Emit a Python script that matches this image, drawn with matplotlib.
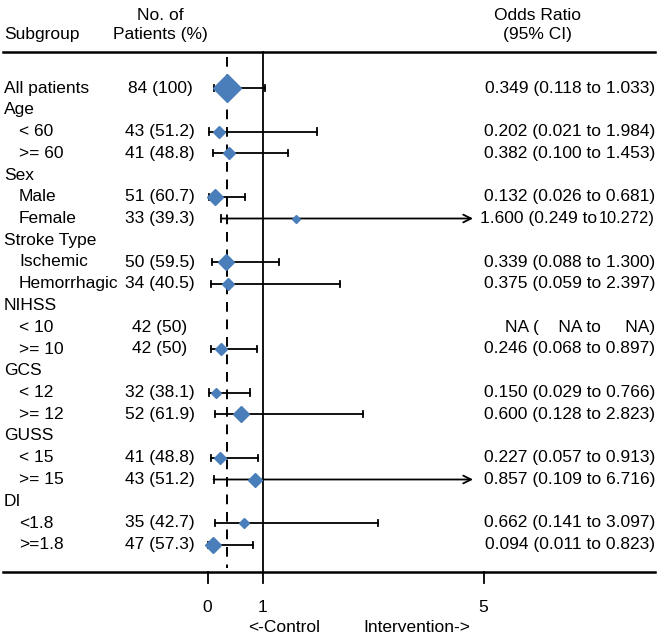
import numpy as np
import matplotlib.pyplot as plt

plt.rcParams['font.family'] = ['Liberation Sans', 'DejaVu Sans']

# Data
labels = ['All patients', 'Age', '< 60', '>= 60', 'Sex', 'Male', 'Female',
          'Stroke Type', 'Ischemic', 'Hemorrhagic', 'NIHSS', '< 10', '>= 10',
          'GCS', '< 12', '>= 12', 'GUSS', '< 15', '>= 15', 'DI', '<1.8', '>=1.8']
indent = [0, 0, 1, 1, 0, 1, 1, 0, 1, 1, 0, 1, 1, 0, 1, 1, 0, 1, 1, 0, 1, 1]
n_text = ['84 (100)', '', '43 (51.2)', '41 (48.8)', '', '51 (60.7)', '33 (39.3)',
          '', '50 (59.5)', '34 (40.5)', '', '42 (50)', '42 (50)', '',
          '32 (38.1)', '52 (61.9)', '', '41 (48.8)', '43 (51.2)', '',
          '35 (42.7)', '47 (57.3)']
nan = np.nan
odds = [0.349, nan, 0.202, 0.382, nan, 0.132, 1.600, nan, 0.339, 0.375, nan,
        nan, 0.246, nan, 0.150, 0.600, nan, 0.227, 0.857, nan, 0.662, 0.094]
lower = [0.118, nan, 0.021, 0.100, nan, 0.026, 0.249, nan, 0.088, 0.059, nan,
         nan, 0.068, nan, 0.029, 0.128, nan, 0.057, 0.109, nan, 0.141, 0.011]
upper = [1.033, nan, 1.984, 1.453, nan, 0.681, 10.272, nan, 1.300, 2.397, nan,
         nan, 0.897, nan, 0.766, 2.823, nan, 0.913, 6.716, nan, 3.097, 0.823]
na_rows = ['< 10']
box_size = [14, 0, 6, 6, 0, 8, 4.5, 0, 8, 6, 0, 0, 6.5, 0, 5, 8, 0, 6, 7, 0, 5.5, 8]
ticks = [0, 1, 5]

# layout (pixels)
W, H = 660, 636
x0, scale = 207.5, 55.2
clip_hi = 4.81
row0, dy = 88, 21.75
blue = '#4a7ebb'
fs = 12.5


def px(p):
    return (p - x0) / scale


fig = plt.figure(figsize=(W / 100, H / 100), dpi=100)
ax = fig.add_axes([0, 0, 1, 1])
ax.set_xlim(px(0), px(W))
ax.set_ylim(H, 0)
ax.axis('off')
renderer = fig.canvas.get_renderer()

# header
ax.text(px(4), 35, 'Subgroup', fontsize=fs, va='center', ha='left')
ax.text(px(160), 16, 'No. of', fontsize=fs, va='center', ha='center')
ax.text(px(160), 35, 'Patients (%)', fontsize=fs, va='center', ha='center')
ax.text(px(537), 16, 'Odds Ratio', fontsize=fs, va='center', ha='center')
ax.text(px(537), 35, '(95% CI)', fontsize=fs, va='center', ha='center')

top, bottom = 52, 572
ax.plot([px(3), px(655)], [top, top], color='black', lw=1.8)
ax.plot([px(3), px(655)], [bottom, bottom], color='black', lw=1.8)
ax.plot([1, 1], [top, bottom], color='black', lw=1.3)
ax.plot([odds[0], odds[0]], [57, 568], color='black', lw=1.4, ls=(0, (5, 4)))

for t in ticks:
    ax.plot([t, t], [bottom, 583], color='black', lw=1.3)
    ax.text(t, 607, str(t), fontsize=fs, va='center', ha='center')
ax.text(px(284), 628, '<-Control', fontsize=fs, va='center', ha='center')
ax.text(px(417), 628, 'Intervention->', fontsize=fs, va='center', ha='center')

for i, lab in enumerate(labels):
    y = row0 + i * dy
    ax.text(px(19 if indent[i] else 4), y, lab, fontsize=fs, va='center', ha='left')
    if n_text[i]:
        ax.text(px(160), y, n_text[i], fontsize=fs, va='center', ha='center')
    if lab in na_rows:
        ax.text(px(655), y, 'NA (    NA to     NA)', fontsize=fs, va='center', ha='right')
        continue
    if np.isnan(odds[i]):
        continue
    if upper[i] >= 10:
        # wide upper limit printed a bit narrower, as in the original
        suf = ax.text(px(655), y, f'{upper[i]:.3f})', fontsize=fs - 0.7,
                      va='center', ha='right')
        wpx = suf.get_window_extent(renderer).width
        ax.text(px(655 - wpx - 2), y, f'{odds[i]:.3f} ({lower[i]:.3f} to',
                fontsize=fs, va='center', ha='right')
    else:
        ax.text(px(655), y, f'{odds[i]:.3f} ({lower[i]:.3f} to {upper[i]:.3f})',
                fontsize=fs, va='center', ha='right')
    cap = 3.2
    ax.plot([lower[i], lower[i]], [y - cap, y + cap], color='black', lw=1.3)
    if upper[i] > clip_hi:
        ax.annotate('', xy=(clip_hi, y), xytext=(lower[i], y),
                    arrowprops=dict(arrowstyle='->', color='black', lw=1.3,
                                    shrinkA=0, shrinkB=0, mutation_scale=14))
    else:
        ax.plot([lower[i], upper[i]], [y, y], color='black', lw=1.3)
        ax.plot([upper[i], upper[i]], [y - cap, y + cap], color='black', lw=1.3)
    ax.plot(odds[i], y, marker='D', ms=box_size[i], color=blue, mec=blue, zorder=5)

fig.savefig('out.png', dpi=100)
